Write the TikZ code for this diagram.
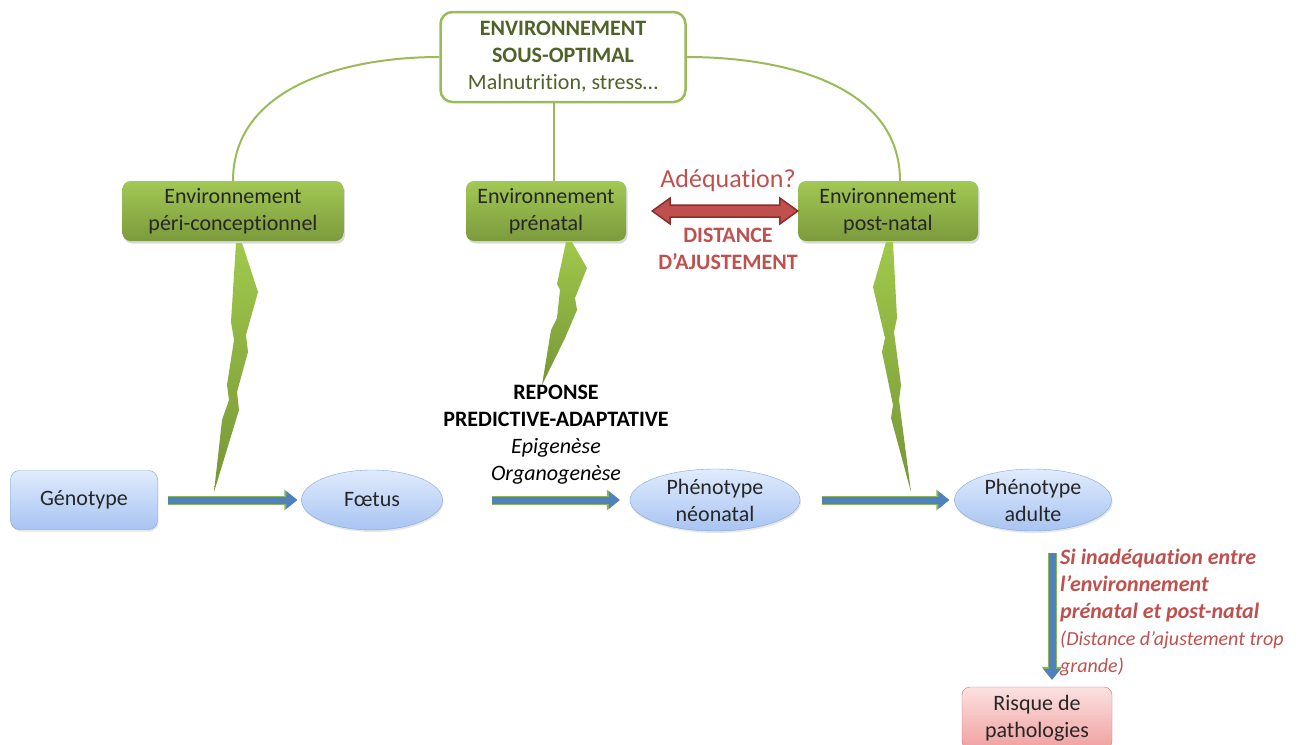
\documentclass[tikz,border=0pt]{standalone}
\usepackage{fontspec}
\setmainfont{Carlito}[Ligatures=CommonOff]
\usetikzlibrary{
	arrows.meta,
	calc,
	positioning,
	shadows,
	shapes.geometric
}

\definecolor{envgreen}{RGB}{155,187,89}
\definecolor{envlight}{RGB}{162,200,84}
\definecolor{envdark}{RGB}{124,154,60}
\definecolor{olivetext}{RGB}{79,98,40}
\definecolor{flowblue}{RGB}{79,129,189}
\definecolor{flowgreen}{RGB}{140,180,90}
\definecolor{adjred}{RGB}{192,80,77}
\definecolor{adjdark}{RGB}{140,45,42}
\definecolor{paleblue}{RGB}{224,235,253}
\definecolor{midblue}{RGB}{168,196,242}
\definecolor{palepink}{RGB}{252,225,225}
\definecolor{midpink}{RGB}{240,160,160}
\definecolor{boltlight}{RGB}{160,200,75}
\definecolor{boltdark}{RGB}{118,150,55}

\newcommand\basefont{\fontsize{22}{27}\selectfont}

\begin{document}
\begin{tikzpicture}[x=1pt,y=-1pt,font=\basefont,
        top node/.style={rectangle,rounded corners=12pt,draw=envgreen,line width=2.5pt,
          fill=white,text=olivetext,align=center,minimum width=245pt,minimum height=90pt,inner sep=0pt},
        env node/.style={rectangle,rounded corners=8pt,top color=envlight,bottom color=envdark,
          text=black!85,align=center,minimum height=60pt,inner sep=0pt,
          drop shadow={opacity=0.3,shadow xshift=1.5pt,shadow yshift=-2.5pt}},
        geno node/.style={rectangle,rounded corners=9pt,draw=flowblue!70,top color=paleblue,
          bottom color=midblue,text=black!85,align=center,inner sep=0pt,
          drop shadow={opacity=0.2,shadow xshift=1pt,shadow yshift=-2pt}},
        pheno node/.style={ellipse,draw=flowblue!70,top color=paleblue,bottom color=midblue,
          text=black!85,align=center,inner sep=0pt,
          drop shadow={opacity=0.2,shadow xshift=1pt,shadow yshift=-2pt}},
        risk node/.style={rectangle,rounded corners=8pt,draw=adjred!80,top color=palepink,
          bottom color=midpink,text=black!85,align=center,inner sep=0pt,
          minimum width=150pt,minimum height=62pt},
        link/.style={draw=envgreen,line width=2pt},
        bolt/.style={top color=boltlight,bottom color=boltdark,draw=none},
        flow/.style={draw=flowblue,line width=7pt,-{Triangle[length=11pt,width=17pt]},
          preaction={draw=flowgreen,line width=9pt,-{Triangle[length=13pt,width=20pt]}}},
        adjust/.style={fill=adjred,draw=adjdark,line width=1.5pt,line join=miter}]

        \useasboundingbox (0,0) rectangle (1311,744);

        % top of the diagram
        \node[top node] (envtop) at (563,57) {\textbf{ENVIRONNEMENT}\\\textbf{SOUS-OPTIMAL}\\Malnutrition, stress…};

        \node[env node,minimum width=221pt] (peri) at (233,211) {Environnement\\péri-conceptionnel};
        \node[env node,minimum width=160pt] (prenatal) at (546,211) {Environnement\\prénatal};
        \node[env node,minimum width=180pt] (postnatal) at (888,211) {Environnement\\post-natal};

        \draw[link] (envtop.west) to[out=180,in=90] (peri.north);
        \draw[link] (envtop.east) to[out=0,in=90] ([xshift=12pt]postnatal.north);
        \draw[link] ([xshift=8pt]prenatal.north) -- ([xshift=8pt]prenatal.north |- envtop.south);

        % adjustment distance
        \coordinate (adjleft) at ([xshift=26pt]prenatal.east);
        \filldraw[adjust] (adjleft) -- ++(18,-13) -- ++(0,7) -- ($(postnatal.west)+(-18,-6)$)
          -- ++(0,-7) -- (postnatal.west) -- ++(-18,13) -- ++(0,-7) -- ($(adjleft)+(18,6)$)
          -- ++(0,7) -- cycle;
        \node[text=adjred,font=\fontsize{26}{30}\selectfont] (adequation) at (728,181) {Adéquation?};
        \node[text=adjred,font=\basefont\bfseries,align=center] (distance) at (728,249) {DISTANCE\\D’AJUSTEMENT};

        % lightning bolts
        \path[bolt] (236,243) -- (242,243) -- (258,292) -- (246,335) -- (248,352) -- (237,392)
          -- (239,410) -- (214,492) -- (222,420) -- (229,400) -- (227,385) -- (234,340)
          -- (231,322) -- cycle;
        \path[bolt] (566,242) -- (572,242) -- (587,268) -- (575,298) -- (577,310) -- (565,338)
          -- (542,385) -- (551,330) -- (557,318) -- (560,290) -- (557,284) -- cycle;
        \path[bolt] (886,242) -- (893,242) -- (897,318) -- (894,332) -- (901,385) -- (899,400)
          -- (911,492) -- (891,418) -- (893,405) -- (882,352) -- (885,338) -- (873,287) -- cycle;

        % development line
        \node[geno node,minimum width=147pt,minimum height=59pt] (genotype) at (84,500) {Génotype};
        \node[pheno node,minimum width=141pt,minimum height=60pt] (foetus) at (372,500) {Fœtus};
        \node[pheno node,minimum width=170pt,minimum height=62pt] (neonatal) at (715,500) {Phénotype\\néonatal};
        \node[pheno node,minimum width=157pt,minimum height=62pt] (adulte) at (1033,500) {Phénotype\\adulte};
        \node[risk node] (risque) at (1037,718) {Risque de\\pathologies};

        \draw[flow,shorten <=10pt,shorten >=4pt] (genotype) -- (foetus);
        \draw[flow,shorten <=49pt,shorten >=10pt] (foetus) -- (neonatal);
        \draw[flow,shorten <=22pt,shorten >=5pt] (neonatal) -- (adulte);
        \draw[flow] ([xshift=19pt,yshift=-22pt]adulte.south) -- ([xshift=15pt,yshift=7pt]risque.north);

        \node[align=center] (reponse) at (556,435) {\textbf{REPONSE}\\\textbf{PREDICTIVE-ADAPTATIVE}\\\textit{Epigenèse}\\\textit{Organogenèse}};

        \node[anchor=north west,align=left,inner sep=0pt,text=adjred] (inadequation) at (1060,549)
          {\textbf{\textit{Si inadéquation entre}}\\\textbf{\textit{l’environnement}}\\\textbf{\textit{prénatal et post-natal}}\\
           {\fontsize{20}{25}\selectfont\textit{(Distance d’ajustement trop}}\\{\fontsize{20}{25}\selectfont\textit{grande)}}};

      \end{tikzpicture}
\end{document}
